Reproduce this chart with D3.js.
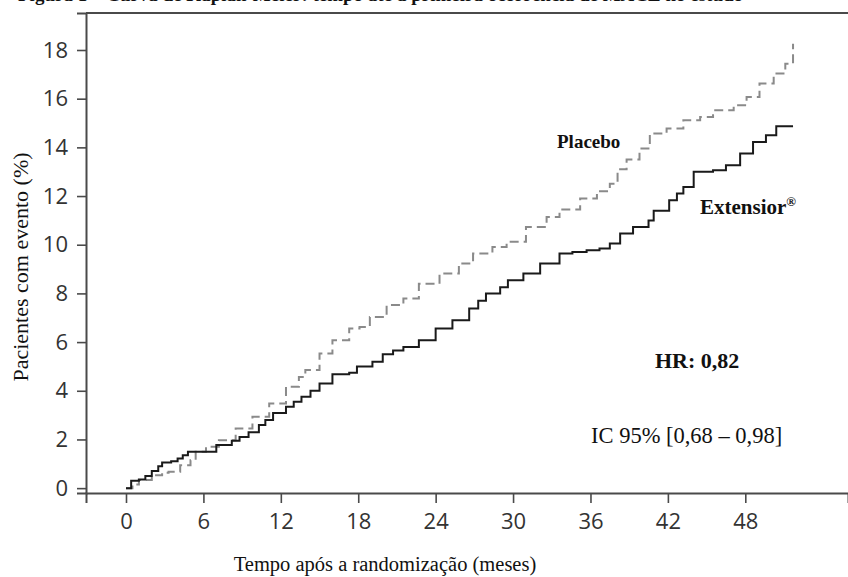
<!DOCTYPE html>
<html><head><meta charset="utf-8">
<script src="https://cdn.jsdelivr.net/npm/d3@7"></script>
<style>body{margin:0;background:#fff}svg{display:block}</style>
</head><body>
<svg id="c" width="848" height="577"></svg>
<script>
const titleText = "Figura 1 – Curva de Kaplan-Meier: tempo até a primeira ocorrência de MACE no estudo";
const xTicks = [0, 6, 12, 18, 24, 30, 36, 42, 48];
const yTicks = [0, 2, 4, 6, 8, 10, 12, 14, 16, 18];
const xLabel = "Tempo após a randomização (meses)";
const yLabel = "Pacientes com evento (%)";

const extMonths = [0,0.4,1.0,1.5,2.0,2.5,2.8,3.5,4.0,4.4,4.8,7.0,8.2,8.8,9.5,10.3,10.8,11.4,12.4,13.0,13.6,14.3,15.0,16.0,17.3,17.9,19.1,19.9,20.7,21.5,22.7,24.0,25.3,26.6,27.3,27.9,29.0,29.6,30.8,32.1,33.6,34.6,35.7,36.7,37.5,38.3,39.3,40.5,40.9,42.1,42.7,43.2,44.0,45.5,46.5,47.6,48.6,49.6,50.4,51.7];
const extPct    = [0,0.3,0.35,0.5,0.7,0.9,1.05,1.1,1.22,1.35,1.49,1.77,1.95,2.1,2.3,2.59,2.8,3.09,3.34,3.55,3.75,4.0,4.3,4.68,4.74,5.0,5.19,5.5,5.65,5.8,6.08,6.56,6.9,7.38,7.7,8.0,8.25,8.54,8.82,9.23,9.64,9.7,9.77,9.84,10.05,10.46,10.73,11.0,11.4,11.83,12.1,12.37,13.0,13.06,13.27,13.75,14.22,14.5,14.87,14.87];

const plaMonths = [0,0.5,1.0,2.0,2.8,3.3,4.2,5.0,5.4,6.2,7.2,8.5,9.8,11.1,12.4,13.4,13.9,15.0,16.0,17.3,18.1,18.9,20.2,21.5,22.7,24.3,25.8,26.9,28.4,29.5,31.0,32.6,33.6,35.2,36.5,37.5,38.1,38.8,39.8,40.6,41.9,43.2,44.5,45.5,47.1,48.1,49.1,50.2,51.1,51.6,51.7];
const plaPct    = [0,0.15,0.33,0.53,0.63,0.67,0.94,1.15,1.49,1.7,1.97,2.45,2.93,3.48,4.16,4.57,4.85,5.53,6.08,6.56,6.62,7.03,7.52,7.79,8.4,8.82,9.23,9.64,9.91,10.12,10.73,11.14,11.45,11.9,12.2,12.51,13.1,13.5,13.95,14.57,14.77,15.11,15.25,15.52,15.73,16.07,16.62,17.03,17.44,17.5,18.26];

const svg = d3.select("#c");
const x = d3.scaleLinear().domain([-3.1, 55.96]).range([86, 848]);
const y = d3.scaleLinear().domain([-0.2, 19.52]).range([493, 13]);

// title (cut off at the top edge, as in the reference)
svg.append("text").attr("x", 18).attr("y", 0.5)
  .attr("font-family", "Liberation Serif, Times New Roman, serif")
  .attr("font-weight", "bold").attr("font-size", 19).attr("fill", "#111")
  .text(titleText);

const axisColor = "#4a4a4a";
const tickFont = "Open Sans, Noto Sans, sans-serif";

// top border
svg.append("line").attr("x1", x(-3.1)).attr("x2", 848).attr("y1", y(19.52)).attr("y2", y(19.52))
  .attr("stroke", axisColor).attr("stroke-width", 2);

const gx = svg.append("g").attr("transform", `translate(0,${y(-0.2)})`)
  .call(d3.axisBottom(x).tickValues(xTicks).tickSize(10).tickPadding(10).tickFormat(d3.format("d")));
const gy = svg.append("g").attr("transform", `translate(${x(-3.1)},0)`)
  .call(d3.axisLeft(y).tickValues(yTicks).tickSize(9).tickPadding(9).tickFormat(d3.format("d")));
[gx, gy].forEach(g => {
  g.select(".domain").attr("stroke", axisColor).attr("stroke-width", 2);
  g.selectAll(".tick line").attr("stroke", axisColor).attr("stroke-width", 1.6);
  g.selectAll(".tick text").attr("font-family", tickFont).attr("font-size", 22).attr("fill", "#333");
});
gx.selectAll(".tick text").attr("dy", "0.71em");

// curves
const line = d3.line().curve(d3.curveStepAfter).x(d => x(d[0])).y(d => y(d[1]));
const pla = d3.zip(plaMonths, plaPct);
const ext = d3.zip(extMonths, extPct);
svg.append("path").datum(pla).attr("d", line).attr("fill", "none")
  .attr("stroke", "#8a8a8a").attr("stroke-width", 2).attr("stroke-dasharray", "9,5");
svg.append("path").datum(ext).attr("d", line).attr("fill", "none")
  .attr("stroke", "#1a1a1a").attr("stroke-width", 2);

const serif = "Liberation Serif, Times New Roman, serif";
// labels
svg.append("text").attr("x", 557).attr("y", 148).attr("font-family", serif)
  .attr("font-weight", "bold").attr("font-size", 19).attr("fill", "#111").text("Placebo");
const ex = svg.append("text").attr("x", 700).attr("y", 214).attr("font-family", serif)
  .attr("font-weight", "bold").attr("font-size", 21).attr("fill", "#111");
ex.append("tspan").text("Extensior");
ex.append("tspan").attr("font-size", 13).attr("dy", -8).text("®");
svg.append("text").attr("x", 655).attr("y", 368).attr("font-family", serif)
  .attr("font-weight", "bold").attr("font-size", 22).attr("fill", "#111").text("HR: 0,82");
svg.append("text").attr("x", 591).attr("y", 443).attr("font-family", serif)
  .attr("font-size", 22.5).attr("fill", "#111").text("IC 95% [0,68 – 0,98]");

// axis titles
svg.append("text").attr("x", 385).attr("y", 571).attr("text-anchor", "middle")
  .attr("font-family", serif).attr("font-size", 20.5).attr("fill", "#111").text(xLabel);
svg.append("text").attr("transform", "translate(28,267) rotate(-90)").attr("text-anchor", "middle")
  .attr("font-family", serif).attr("font-size", 22).attr("fill", "#111").text(yLabel);
</script>
</body></html>
